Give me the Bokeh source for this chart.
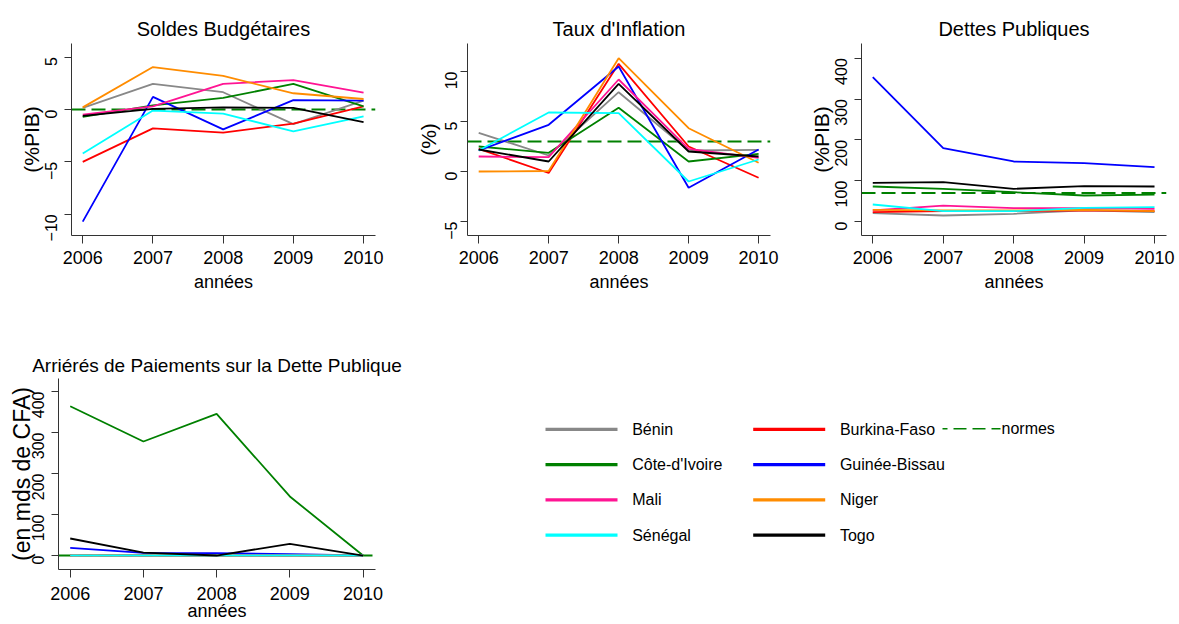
import math
from bokeh.plotting import figure
from bokeh.models import Range1d, FixedTicker, Span
from bokeh.layouts import row, column
from bokeh.embed import file_html
from bokeh.resources import INLINE
from bokeh.core.properties import value

# ---------------- data ----------------
years = [2006, 2007, 2008, 2009, 2010]
countries = ["Bénin", "Burkina-Faso", "Côte-d'Ivoire", "Guinée-Bissau",
             "Mali", "Niger", "Sénégal", "Togo"]
colors = ["#888888", "#FF0000", "#008000", "#0000FF",
          "#FF1493", "#FF8C00", "#00FFFF", "#000000"]

soldes_benin = [0.15, 2.45, 1.65, -1.4, 0.85]
soldes_burkina = [-5.0, -1.8, -2.2, -1.35, 0.3]
soldes_ci = [-0.7, 0.4, 1.1, 2.45, 0.3]
soldes_gb = [-10.7, 1.2, -1.9, 0.9, 0.85]
soldes_mali = [-0.5, 0.3, 2.45, 2.8, 1.6]
soldes_niger = [0.2, 4.05, 3.2, 1.55, 1.0]
soldes_senegal = [-4.2, -0.1, -0.4, -2.1, -0.65]
soldes_togo = [-0.6, 0.05, 0.2, 0.15, -1.2]

infl_benin = [3.87, 1.6, 7.93, 2.1, 2.17]
infl_burkina = [2.27, -0.15, 10.77, 2.5, -0.63]
infl_ci = [2.5, 1.87, 6.37, 1.0, 1.77]
infl_gb = [2.1, 4.67, 10.5, -1.63, 2.2]
infl_mali = [1.5, 1.43, 9.2, 2.27, 1.37]
infl_niger = [0.0, 0.05, 11.33, 4.33, 0.87]
infl_senegal = [2.1, 5.9, 5.83, -1.0, 1.2]
infl_togo = [2.2, 1.0, 8.77, 2.0, 1.5]

dette_benin = [20.4, 14.7, 18.8, 27.0, 22.9]
dette_burkina = [22.9, 25.3, 25.3, 27.0, 25.3]
dette_ci = [85.7, 80.0, 71.8, 63.7, 66.0]
dette_gb = [353.5, 179.5, 147.0, 142.8, 133.0]
dette_mali = [27.0, 39.0, 32.7, 32.7, 31.0]
dette_niger = [28.6, 27.0, 27.0, 28.6, 25.3]
dette_senegal = [41.6, 25.3, 25.3, 33.5, 35.0]
dette_togo = [94.7, 96.3, 80.0, 86.5, 85.7]

arr_benin = [0, 0, 0, 0, 0]
arr_burkina = [0, 0, 0, 0, 0]
arr_ci = [364, 278, 345.5, 144, 0]
arr_gb = [18.5, 6.5, 5.7, 3.2, 0]
arr_mali = [0, 0, 0, 0, 0]
arr_niger = [0, 0, 0, 0, 0]
arr_senegal = [0, 0, 0, 0, 0]
arr_togo = [41.5, 7.0, 0, 28.3, 0]

norme_soldes = 0
norme_inflation = 3
norme_dettes = 70
norme_arrieres = 0

soldes = [soldes_benin, soldes_burkina, soldes_ci, soldes_gb, soldes_mali, soldes_niger, soldes_senegal, soldes_togo]
inflation = [infl_benin, infl_burkina, infl_ci, infl_gb, infl_mali, infl_niger, infl_senegal, infl_togo]
dettes = [dette_benin, dette_burkina, dette_ci, dette_gb, dette_mali, dette_niger, dette_senegal, dette_togo]
arrieres = [arr_benin, arr_burkina, arr_ci, arr_gb, arr_mali, arr_niger, arr_senegal, arr_togo]

FONT = "Liberation Sans"
NORM_COLOR = "#008000"


def panel(title, series, yticks, yr, ylab, norm, width, height, bl, br, bt, bb,
          title_size="20px", title_std=7, xtick_std=7, xlab_std=5,
          ytick_std=13, ylab_std=-6, ylab_size="21px"):
    p = figure(width=width, height=height,
               x_range=Range1d(2005.84, 2010.17), y_range=Range1d(*yr),
               output_backend="svg", toolbar_location=None,
               min_border_left=bl, min_border_right=br,
               min_border_top=bt, min_border_bottom=bb)
    p.outline_line_color = None
    p.grid.visible = False
    p.add_layout(Span(location=norm, dimension="width", line_color=NORM_COLOR,
                      line_width=2, line_dash="14 6", level="underlay"))
    for data, col in zip(series, colors):
        p.line(years, data, line_color=col, line_width=1.8)

    p.title.text = title
    p.title.align = "center"
    p.title.text_font = FONT
    p.title.text_font_size = title_size
    p.title.text_font_style = "normal"
    p.title.text_color = "black"
    p.title.standoff = title_std

    for ax in p.axis:
        ax.axis_line_color = "#333333"
        ax.axis_line_width = 1
        ax.major_tick_line_color = "#333333"
        ax.major_tick_in = 0
        ax.minor_tick_out = 0
        ax.minor_tick_in = 0
        ax.major_label_text_font = FONT
        ax.major_label_text_color = "black"
        ax.axis_label_text_font = FONT
        ax.axis_label_text_font_style = "normal"
        ax.axis_label_text_color = "black"

    xa = p.xaxis[0]
    xa.ticker = FixedTicker(ticks=years)
    xa.major_tick_out = 8
    xa.major_label_text_font_size = "18px"
    xa.major_label_standoff = xtick_std
    xa.axis_label = "années"
    xa.axis_label_text_font_size = "18px"
    xa.axis_label_standoff = xlab_std

    ya = p.yaxis[0]
    ya.ticker = FixedTicker(ticks=yticks)
    ya.major_tick_out = 7
    ya.major_label_orientation = math.pi / 2
    ya.major_label_text_font_size = "16px"
    ya.major_label_standoff = ytick_std
    ya.axis_label = ylab
    ya.axis_label_text_font_size = ylab_size
    ya.axis_label_standoff = ylab_std
    return p


p1 = panel("Soldes Budgétaires", soldes, [-10, -5, 0, 5], (-12.03, 6.3), "(%PIB)",
           norme_soldes, 400, 340, 71, 25, 43, 105)
p2 = panel("Taux d'Inflation", inflation, [-5, 0, 5, 10], (-6.4, 12.8), "(%)",
           norme_inflation, 390, 340, 67, 20, 43, 105, ytick_std=10, ylab_std=-4)
p3 = panel("Dettes Publiques", dettes, [0, 100, 200, 300, 400], (-34.3, 436), "(%PIB)",
           norme_dettes, 389, 340, 71, 13, 43, 105)
p4 = panel("Arriérés de Paiements sur la Dette Publique", arrieres, [0, 100, 200, 300, 400],
           (-34.1, 431.7), "(en mds de CFA)", norme_arrieres, 408, 284, 58, 33, 38, 55,
           title_size="19px", title_std=5, xtick_std=9, xlab_std=-2,
           ytick_std=13, ylab_std=-11, ylab_size="23px")

# ---------------- legend panel ----------------
leg = figure(width=771, height=284, x_range=Range1d(0, 771), y_range=Range1d(0, 284),
             x_axis_type=None, y_axis_type=None, output_backend="svg",
             toolbar_location=None, min_border=0)
leg.outline_line_color = None
leg.grid.visible = False

col_x = [137, 344.7]
line_len = 72
txt_gap = 14.7
row_y0 = 208.3
row_dy = 52.4

lx0, lx1, ly, tx = [], [], [], []
for i, c in enumerate(countries):
    cx = col_x[i % 2]
    yy = row_y0 - (i // 2) * row_dy
    lx0.append(cx)
    lx1.append(cx + line_len)
    ly.append(yy)
    tx.append(cx + line_len + txt_gap)

leg.segment(x0=lx0, y0=ly, x1=lx1, y1=ly, line_color=colors, line_width=3.3)
leg.text(x=tx, y=ly, text=countries, text_font=value(FONT), text_font_size=value("16px"),
         text_baseline="middle", text_align="left", text_color="black")

norm_x0 = 534
norm_len = 58
leg.segment(x0=[norm_x0], y0=[row_y0 + 1], x1=[norm_x0 + norm_len], y1=[row_y0 + 1],
            line_color=NORM_COLOR, line_width=1.5, line_dash="13 6", line_dash_offset=8)
leg.text(x=[norm_x0 + norm_len + 1], y=[row_y0 + 1], text=["normes"], text_font=value(FONT),
         text_font_size=value("16px"), text_baseline="middle", text_align="left",
         text_color="black")

layout = column(row(p1, p2, p3), row(p4, leg))

with open("out.html", "w") as f:
    f.write(file_html(layout, INLINE))
